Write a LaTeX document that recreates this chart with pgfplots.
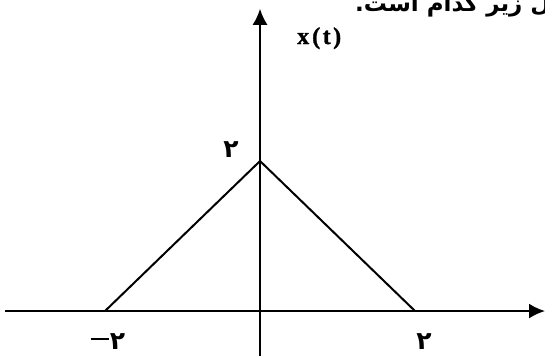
\documentclass[border=0pt]{standalone}
\usepackage{pgfplots}
\pgfplotsset{compat=1.18}
\usepackage{fontspec}
\usetikzlibrary{arrows.meta}
\setmainfont{Liberation Serif}
\newfontfamily\labelfont[FakeBold=1.2]{Liberation Serif Bold}
\newfontfamily\arabicfont[Script=Arabic]{DejaVu Sans}
\TeXXeTstate=1
\begin{document}
\begin{tikzpicture}
  \begin{axis}[
      x=77.5pt, y=75pt,
      axis lines=middle,
      xmin=-3.29, xmax=3.677,
      ymin=-0.6, ymax=4.03,
      xtick=\empty, ytick=\empty,
      axis line style={line width=2pt, -{Latex[length=16pt,width=15pt]}},
      clip=false
    ]
    % triangle pulse
    \addplot[black, line width=2pt] coordinates {
      (-2, 0)
      (0, 2)
      (2, 0)
    };

    \node[anchor=base west, inner sep=0pt, font=\labelfont\fontsize{24}{24}\selectfont]
      at (axis cs:0.477,3.56) {x\kern3pt(\kern2.5pt t\kern2.5pt)};
    \node[anchor=base, inner sep=0pt] at (axis cs:-1.96,-0.51)
      {\rule[9pt]{18pt}{2.6pt}\kern1pt{\arabicfont\bfseries\fontsize{25}{25}\selectfont ۲}};
    \node[anchor=base, inner sep=0pt, font=\arabicfont\bfseries\fontsize{25}{25}\selectfont]
      at (axis cs:2.116,-0.51) {۲};
    \node[anchor=base, inner sep=0pt, font=\arabicfont\bfseries\fontsize{25}{25}\selectfont]
      at (axis cs:-0.374,2.053) {۲};
    \node[anchor=base west, inner sep=0pt, font=\arabicfont\bfseries\fontsize{23}{23}\selectfont]
      at (axis cs:1.226,3.987) {\beginR ال زیر کدام است.\endR};

    \coordinate (bl) at (axis cs:-3.355,-0.6);
    \coordinate (tr) at (axis cs:3.677,4.147);
  \end{axis}
  \pgfresetboundingbox
  \path[use as bounding box] (bl) rectangle (tr);
\end{tikzpicture}
\end{document}
